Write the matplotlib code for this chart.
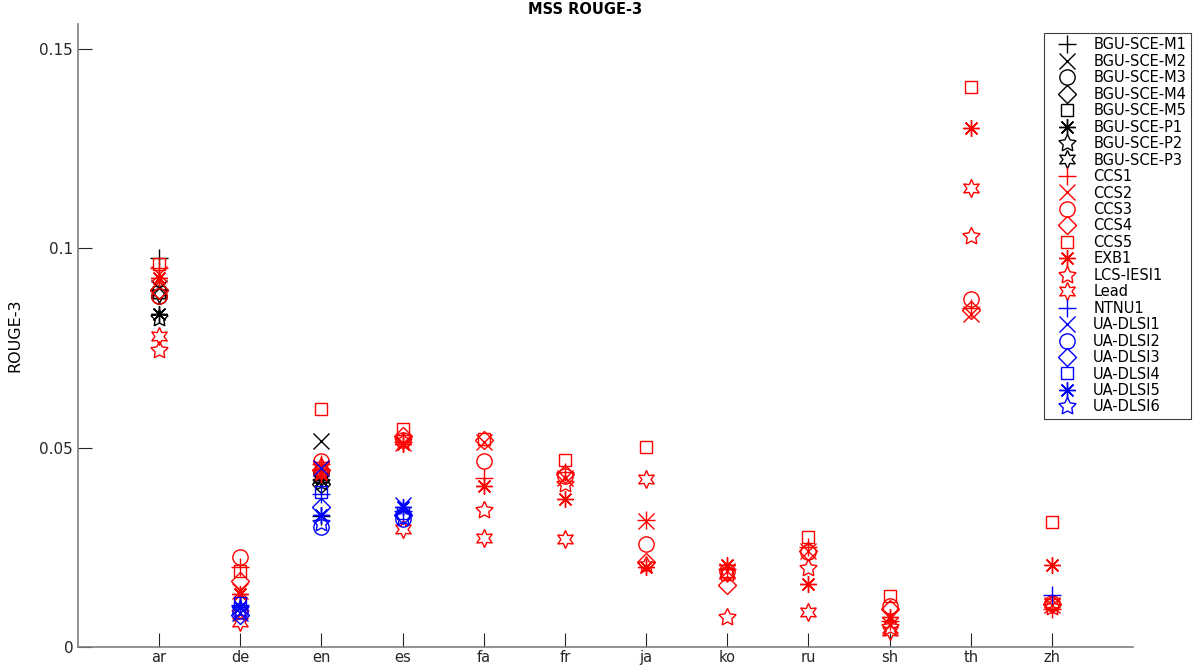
import numpy as np
import matplotlib
matplotlib.use("Agg")
from matplotlib import pyplot as plt

nan = np.nan

languages = ['ar', 'de', 'en', 'es', 'fa', 'fr', 'ja', 'ko', 'ru', 'sh', 'th', 'zh']

# ROUGE-3 per language, one list per system (nan = no submission)
bgu_sce_m1 = [0.0975, nan, 0.0328, nan, nan, nan, nan, nan, nan, nan, nan, nan]
bgu_sce_m2 = [0.0900, nan, 0.0518, nan, nan, nan, nan, nan, nan, nan, nan, nan]
bgu_sce_m3 = [0.0880, nan, 0.0440, nan, nan, nan, nan, nan, nan, nan, nan, nan]
bgu_sce_m4 = [0.0895, nan, 0.0410, nan, nan, nan, nan, nan, nan, nan, nan, nan]
bgu_sce_m5 = [0.0890, nan, 0.0430, nan, nan, nan, nan, nan, nan, nan, nan, nan]
bgu_sce_p1 = [0.0835, nan, 0.0420, nan, nan, nan, nan, nan, nan, nan, nan, nan]
bgu_sce_p2 = [0.0825, nan, 0.0415, nan, nan, nan, nan, nan, nan, nan, nan, nan]
bgu_sce_p3 = [0.0885, nan, 0.0425, nan, nan, nan, nan, nan, nan, nan, nan, nan]

ccs1 = [0.0950, 0.0200, 0.0460, 0.0515, 0.0425, 0.0440, 0.0318, 0.0195, 0.0250, 0.0065, 0.0850, 0.0095]
ccs2 = [0.0935, 0.0140, 0.0450, 0.0512, 0.0515, 0.0425, 0.0315, 0.0190, 0.0240, 0.0055, 0.0835, 0.0105]
ccs3 = [0.0880, 0.0226, 0.0467, 0.0520, 0.0467, 0.0430, 0.0258, 0.0190, 0.0238, 0.0102, 0.0872, 0.0110]
ccs4 = [0.0895, 0.0166, 0.0445, 0.0530, 0.0520, 0.0435, 0.0212, 0.0155, 0.0242, 0.0095, 0.0845, 0.0108]
ccs5 = [0.0962, 0.0190, 0.0596, 0.0548, 0.0522, 0.0468, 0.0503, 0.0182, 0.0277, 0.0128, 0.1405, 0.0314]
exb1 = [0.0925, 0.0133, 0.0435, 0.0510, 0.0405, 0.0372, 0.0200, 0.0205, 0.0158, 0.0075, 0.1302, 0.0205]
lcs_iesi1 = [0.0746, 0.0085, 0.0440, 0.0516, 0.0343, 0.0410, 0.0205, 0.0075, 0.0198, 0.0050, 0.1030, 0.0100]
lead = [0.0780, 0.0063, 0.0455, 0.0297, 0.0274, 0.0271, 0.0422, 0.0185, 0.0088, 0.0040, 0.1151, 0.0110]

ntnu1 = [nan, 0.0105, 0.0385, 0.0340, nan, nan, nan, nan, nan, nan, nan, 0.0130]
ua_dlsi1 = [nan, 0.0085, 0.0450, 0.0355, nan, nan, nan, nan, nan, nan, nan, nan]
ua_dlsi2 = [nan, 0.0090, 0.0300, 0.0320, nan, nan, nan, nan, nan, nan, nan, nan]
ua_dlsi3 = [nan, 0.0080, 0.0350, 0.0330, nan, nan, nan, nan, nan, nan, nan, nan]
ua_dlsi4 = [nan, 0.0110, 0.0390, 0.0335, nan, nan, nan, nan, nan, nan, nan, nan]
ua_dlsi5 = [nan, 0.0100, 0.0330, 0.0350, nan, nan, nan, nan, nan, nan, nan, nan]
ua_dlsi6 = [nan, 0.0095, 0.0310, 0.0325, nan, nan, nan, nan, nan, nan, nan, nan]

# matlab-like markers: plus, cross, circle, diamond, square, asterisk, pentagram, hexagram
markers = ['+', 'x', 'o', 'D', 's', (8, 2, 0), (5, 1, 0), (6, 1, 0)]
sizes = [13, 11, 11, 9, 9, 12, 13, 13]

systems = [
	('BGU-SCE-M1', bgu_sce_m1), ('BGU-SCE-M2', bgu_sce_m2), ('BGU-SCE-M3', bgu_sce_m3),
	('BGU-SCE-M4', bgu_sce_m4), ('BGU-SCE-M5', bgu_sce_m5), ('BGU-SCE-P1', bgu_sce_p1),
	('BGU-SCE-P2', bgu_sce_p2), ('BGU-SCE-P3', bgu_sce_p3),
	('CCS1', ccs1), ('CCS2', ccs2), ('CCS3', ccs3), ('CCS4', ccs4), ('CCS5', ccs5),
	('EXB1', exb1), ('LCS-IESI1', lcs_iesi1), ('Lead', lead),
	('NTNU1', ntnu1), ('UA-DLSI1', ua_dlsi1), ('UA-DLSI2', ua_dlsi2), ('UA-DLSI3', ua_dlsi3),
	('UA-DLSI4', ua_dlsi4), ('UA-DLSI5', ua_dlsi5), ('UA-DLSI6', ua_dlsi6),
]
colors = ['black'] * 8 + ['red'] * 8 + ['blue'] * 7

fig = plt.figure(figsize=(11.93, 6.67), dpi=100)
ax = fig.add_axes([0.0654, 0.030, 0.8843, 0.934])

x = np.arange(1, len(languages) + 1)
for i, (name, vals) in enumerate(systems):
	m = markers[i % 8]
	ax.plot(x, vals, linestyle='none', marker=m, markersize=sizes[i % 8],
			markerfacecolor='none', markeredgecolor=colors[i], markeredgewidth=1.0,
			label=name)

ax.set_xlim(0, 13)
ax.set_ylim(0, 0.1563)
ax.set_xticks(x)
ax.set_xticklabels(languages)
ax.set_yticks([0, 0.05, 0.1, 0.15])
ax.set_yticklabels(['0', '0.05', '0.1', '0.15'])
ax.tick_params(direction='in', length=10, labelsize=11, colors='#262626')
ax.tick_params(axis='x', pad=2, labelsize=10.5)
ax.spines['top'].set_visible(False)
ax.spines['right'].set_visible(False)
for s in ['left', 'bottom']:
	ax.spines[s].set_color('#808080')
	ax.spines[s].set_linewidth(1.2)

ax.set_ylabel('ROUGE-3', fontsize=11.5, family='Liberation Sans Narrow', labelpad=12)
fig.text(585 / 1193, 1 - 10 / 667, 'MSS ROUGE-3', ha='center', va='center',
		 fontsize=10.5, fontweight='bold')

leg = ax.legend(loc='upper right', bbox_to_anchor=(0.998, 1 - 33 / 667),
				bbox_transform=fig.transFigure, fontsize=10.5, labelspacing=0.1,
				handletextpad=0.5, borderpad=0.3, fancybox=False, framealpha=1,
				handlelength=2.6, borderaxespad=0)
leg.get_frame().set_edgecolor('#404040')
leg.get_frame().set_linewidth(0.8)

fig.savefig('out.png', dpi=100)
